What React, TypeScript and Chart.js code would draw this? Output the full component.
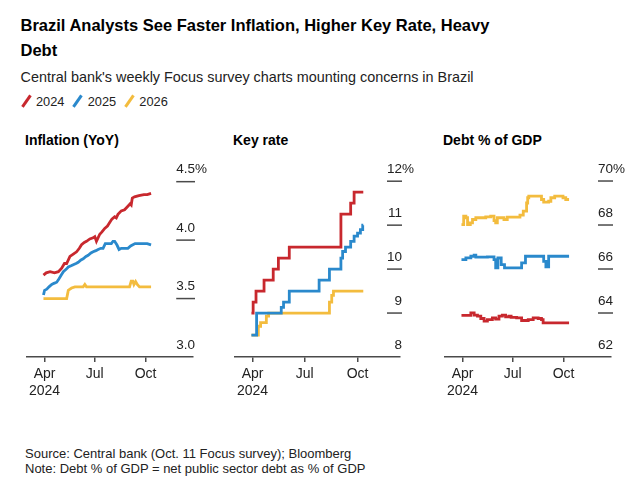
import React, { useEffect, useRef } from 'react';
import { Chart, registerables } from 'chart.js';

Chart.register(...registerables);

const FONT = '"Liberation Sans", Arial, Helvetica, sans-serif';
const RED = '#c8282e';
const BLUE = '#2a89cc';
const YELLOW = '#f3bc3e';
const AXIS_COLOR = '#4a4a4a';

// x values: days since 1 April 2024
const xTickDays = [0, 91, 183];
const xTickLabels: (string | string[])[] = [['Apr', '2024'], 'Jul', 'Oct'];

const seriesNames = ['2024', '2025', '2026'];

// Inflation (YoY) expectations, %
const inflation2024: [number, number][] = [
  [-2, 3.7], [3, 3.72], [10, 3.73], [18, 3.72], [25, 3.73], [31, 3.76], [36, 3.8], [40, 3.8],
  [46, 3.86], [52, 3.88], [58, 3.9], [63, 3.93], [67, 3.96], [72, 3.98], [76, 3.99], [82, 4.01],
  [88, 4.02], [91, 4.03], [94, 3.99], [100, 4.05], [104, 4.07], [109, 4.1], [114, 4.12], [118, 4.15],
  [122, 4.18], [127, 4.2], [130, 4.19], [133, 4.22], [139, 4.25], [145, 4.26], [151, 4.29], [155, 4.31],
  [157, 4.3], [159, 4.36], [163, 4.37], [171, 4.38], [180, 4.39], [186, 4.39], [193, 4.4],
];
const inflation2025: [number, number][] = [
  [-2, 3.53], [0, 3.57], [4, 3.58], [8, 3.6], [13, 3.62], [17, 3.63], [22, 3.64], [25, 3.66],
  [30, 3.7], [34, 3.73], [39, 3.75], [43, 3.77], [48, 3.78], [52, 3.79], [57, 3.8], [61, 3.81],
  [66, 3.83], [70, 3.84], [75, 3.86], [79, 3.87], [84, 3.89], [88, 3.9], [93, 3.91], [97, 3.92],
  [102, 3.93], [106, 3.93], [110, 3.97], [116, 3.97], [121, 3.97], [124, 3.99], [127, 3.99], [131, 3.96],
  [135, 3.92], [139, 3.93], [145, 3.93], [151, 3.93], [156, 3.95], [160, 3.96], [164, 3.97], [172, 3.97],
  [180, 3.97], [186, 3.97], [193, 3.96],
];
const inflation2026: [number, number][] = [
  [-2, 3.5], [10, 3.5], [20, 3.5], [30, 3.5], [40, 3.5], [43, 3.57], [46, 3.58], [49, 3.59],
  [55, 3.6], [70, 3.6], [73, 3.62], [76, 3.6], [100, 3.6], [130, 3.6], [154, 3.6], [157, 3.65],
  [160, 3.65], [162, 3.62], [165, 3.645], [168, 3.62], [172, 3.6], [193, 3.6],
];

// Key rate (Selic) expectations, %
const selic2024: [number, number][] = [
  [-2, 9.0], [1, 9.25], [6, 9.5], [20, 9.75], [36, 10.0], [45, 10.25], [64, 10.5],
  [154, 11.25], [171, 11.5], [177, 11.75], [193, 11.75],
];
const selic2025: [number, number][] = [
  [-2, 8.5], [7, 9.0], [50, 9.13], [54, 9.25], [64, 9.5], [116, 9.75], [134, 10.0], [154, 10.25],
  [157, 10.4], [162, 10.5], [171, 10.63], [177, 10.75], [183, 10.82], [188, 10.9], [192, 11.0], [193, 11.0],
];
const selic2026: [number, number][] = [
  [-2, 8.5], [10, 8.7], [14, 8.78], [24, 8.93], [28, 9.0], [134, 9.25], [138, 9.4], [141, 9.5], [193, 9.5],
];

// Debt % of GDP expectations
const debt2024: [number, number][] = [
  [-2, 63.89], [15, 64.01], [21, 63.9], [27, 63.86], [33, 63.75], [39, 63.63], [45, 63.7], [54, 63.78],
  [60, 63.72], [66, 63.86], [72, 63.9], [78, 63.82], [84, 63.86], [88, 63.8], [98, 63.78], [107, 63.66],
  [119, 63.7], [128, 63.78], [137, 63.75], [143, 63.7], [146, 63.55], [193, 63.55],
];
const debt2025: [number, number][] = [
  [-2, 66.43], [6, 66.51], [15, 66.58], [21, 66.63], [24, 66.54], [45, 66.55], [57, 66.43], [60, 66.05],
  [64, 66.5], [70, 66.2], [76, 66.05], [107, 66.28], [114, 66.58], [147, 66.35], [151, 66.1], [156, 66.58],
  [193, 66.58],
];
const debt2026: [number, number][] = [
  [-2, 68.02], [2, 68.4], [6, 68.33], [9, 68.02], [14, 68.1], [18, 68.25], [24, 68.33], [42, 68.37],
  [51, 68.4], [57, 68.2], [60, 68.1], [63, 68.33], [75, 68.25], [81, 68.36], [104, 68.45], [110, 68.63],
  [116, 69.0], [118, 69.24], [120, 69.31], [143, 69.16], [147, 69.04], [156, 69.08], [160, 69.24],
  [167, 69.31], [182, 69.24], [187, 69.16], [193, 69.16],
];

const inflationTicks = [3.0, 3.5, 4.0, 4.5];
const inflationTickLabels = ['3.0', '3.5', '4.0', '4.5'];
const selicTicks = [8, 9, 10, 11, 12];
const selicTickLabels = ['8', '9', '10', '11', '12'];
const debtTicks = [62, 64, 66, 68, 70];
const debtTickLabels = ['62', '64', '66', '68', '70'];

type PanelDef = {
  title: string;
  left: number;
  width: number;
  xMin: number;
  xMax: number;
  yMin: number;
  yMax: number;
  ticks: number[];
  tickLabels: string[];
  series: [number, number][][];
  stepped: boolean;
};

const TOP = 150;
const AREA_H = 207;
const AXIS_H = 45;
const RIGHT_PAD = 30;

const panels: PanelDef[] = [
  {
    title: 'Inflation (YoY)', left: 25, width: 168, xMin: -31.7, xMax: 269,
    yMin: 3.0, yMax: 4.771, ticks: inflationTicks, tickLabels: inflationTickLabels,
    series: [inflation2024, inflation2025, inflation2026], stepped: false,
  },
  {
    title: 'Key rate', left: 233, width: 167, xMin: -31, xMax: 257,
    yMin: 8, yMax: 12.71, ticks: selicTicks, tickLabels: selicTickLabels,
    series: [selic2024, selic2025, selic2026], stepped: true,
  },
  {
    title: 'Debt % of GDP', left: 443, width: 168, xMin: -31.7, xMax: 269,
    yMin: 62, yMax: 71.41, ticks: debtTicks, tickLabels: debtTickLabels,
    series: [debt2024, debt2025, debt2026], stepped: true,
  },
];

const colors = [RED, BLUE, YELLOW];

const yLabelPlugin = {
  id: 'yLabels',
  afterDraw(chart: any, _args: any, opts: any) {
    const { ctx, chartArea } = chart;
    const y = chart.scales.y;
    ctx.save();
    ctx.font = `13.5px ${FONT}`;
    const widths = opts.labels.map((l: string) => ctx.measureText(l).width);
    const maxW = Math.max(...widths);
    const xEnd = chartArea.right + 2;
    opts.values.forEach((v: number, i: number) => {
      const py = y.getPixelForValue(v);
      if (i > 0) {
        ctx.strokeStyle = AXIS_COLOR;
        ctx.lineWidth = 1.5;
        ctx.beginPath();
        ctx.moveTo(xEnd - maxW, py);
        ctx.lineTo(xEnd, py);
        ctx.stroke();
      }
      ctx.fillStyle = '#222';
      ctx.textBaseline = 'alphabetic';
      ctx.textAlign = 'right';
      ctx.fillText(opts.labels[i], xEnd, py - 8.5);
      if (i === opts.values.length - 1) {
        ctx.textAlign = 'left';
        ctx.fillText('%', xEnd, py - 8.5);
      }
    });
    ctx.restore();
  },
};

function Panel({ def }: { def: PanelDef }) {
  const ref = useRef<HTMLCanvasElement | null>(null);
  useEffect(() => {
    if (!ref.current) return;
    const chart = new Chart(ref.current, {
      type: 'line',
      data: {
        datasets: def.series.map((s, i) => ({
          label: seriesNames[i],
          data: s.map(([x, y]) => ({ x, y })),
          borderColor: colors[i],
          backgroundColor: colors[i],
          borderWidth: 2.8,
          pointRadius: 0,
          stepped: def.stepped,
          tension: 0,
          borderJoinStyle: 'miter',
          borderCapStyle: 'butt',
        })),
      },
      options: {
        animation: false,
        responsive: false,
        maintainAspectRatio: false,
        layout: { padding: { left: 0, right: RIGHT_PAD, top: 0, bottom: 0 } },
        plugins: {
          legend: { display: false },
          tooltip: { enabled: false },
          yLabels: { values: def.ticks, labels: def.tickLabels },
        } as any,
        scales: {
          x: {
            type: 'linear',
            min: def.xMin,
            max: def.xMax,
            afterBuildTicks: (scale: any) => {
              scale.ticks = xTickDays.map((v) => ({ value: v }));
            },
            afterFit: (scale: any) => {
              scale.height = AXIS_H;
            },
            grid: { drawOnChartArea: false, drawTicks: true, tickLength: 5, color: AXIS_COLOR, lineWidth: 1.5 },
            border: { display: true, color: AXIS_COLOR, width: 1.5 },
            ticks: {
              autoSkip: false,
              maxRotation: 0,
              minRotation: 0,
              padding: 4,
              color: '#222',
              font: { family: FONT, size: 14, lineHeight: 1.2 },
              callback: (v: any) => {
                const i = xTickDays.indexOf(Number(v));
                return i >= 0 ? xTickLabels[i] : '';
              },
            },
          },
          y: {
            type: 'linear',
            display: false,
            min: def.yMin,
            max: def.yMax,
          },
        },
      } as any,
      plugins: [yLabelPlugin],
    });
    return () => chart.destroy();
  }, [def]);
  const w = def.width + RIGHT_PAD;
  const h = AREA_H + AXIS_H;
  return (
    <canvas
      ref={ref}
      width={w}
      height={h}
      style={{ position: 'absolute', left: def.left, top: TOP, width: w, height: h }}
    />
  );
}

function Txt({ x, baseline, size, bold, color, children }: any) {
  const lh = size * 1.2;
  return (
    <div
      style={{
        position: 'absolute',
        left: x,
        top: baseline - size * 0.9465,
        fontFamily: FONT,
        fontSize: size,
        fontWeight: bold ? 700 : 400,
        lineHeight: `${lh}px`,
        color: color || '#000',
        whiteSpace: 'nowrap',
      }}
    >
      {children}
    </div>
  );
}

function Slash({ cx, cy, color }: { cx: number; cy: number; color: string }) {
  return (
    <div
      style={{
        position: 'absolute',
        left: cx - 1.3,
        top: cy - 7,
        width: 2.6,
        height: 14,
        background: color,
        transform: 'rotate(35deg)',
      }}
    />
  );
}

export default function App() {
  const legendX = [25.9, 77.2, 128.8];
  const legendTextX = [36, 87.7, 139.3];
  return (
    <div
      style={{
        position: 'absolute',
        left: 0,
        top: 0,
        width: 641,
        height: 491,
        overflow: 'hidden',
        background: '#fff',
      }}
    >
      <Txt x={20.5} baseline={31.7} size={16.5} bold>
        Brazil Analysts See Faster Inflation, Higher Key Rate, Heavy
      </Txt>
      <Txt x={20.5} baseline={56.2} size={16.5} bold>
        Debt
      </Txt>
      <Txt x={20.5} baseline={83} size={14.4} color="#222">
        Central bank's weekly Focus survey charts mounting concerns in Brazil
      </Txt>
      {seriesNames.map((n, i) => (
        <React.Fragment key={n}>
          <Slash cx={legendX[i]} cy={100.9} color={colors[i]} />
          <Txt x={legendTextX[i]} baseline={105.7} size={12.8} color="#222">
            {n}
          </Txt>
        </React.Fragment>
      ))}
      {panels.map((p) => (
        <Txt key={p.title} x={p.left} baseline={145.5} size={14} bold>
          {p.title}
        </Txt>
      ))}
      {panels.map((p) => (
        <Panel key={p.title} def={p} />
      ))}
      <Txt x={25} baseline={458} size={13} color="#222">
        Source: Central bank (Oct. 11 Focus survey); Bloomberg
      </Txt>
      <Txt x={25} baseline={473} size={13} color="#222">
        Note: Debt % of GDP = net public sector debt as % of GDP
      </Txt>
    </div>
  );
}
